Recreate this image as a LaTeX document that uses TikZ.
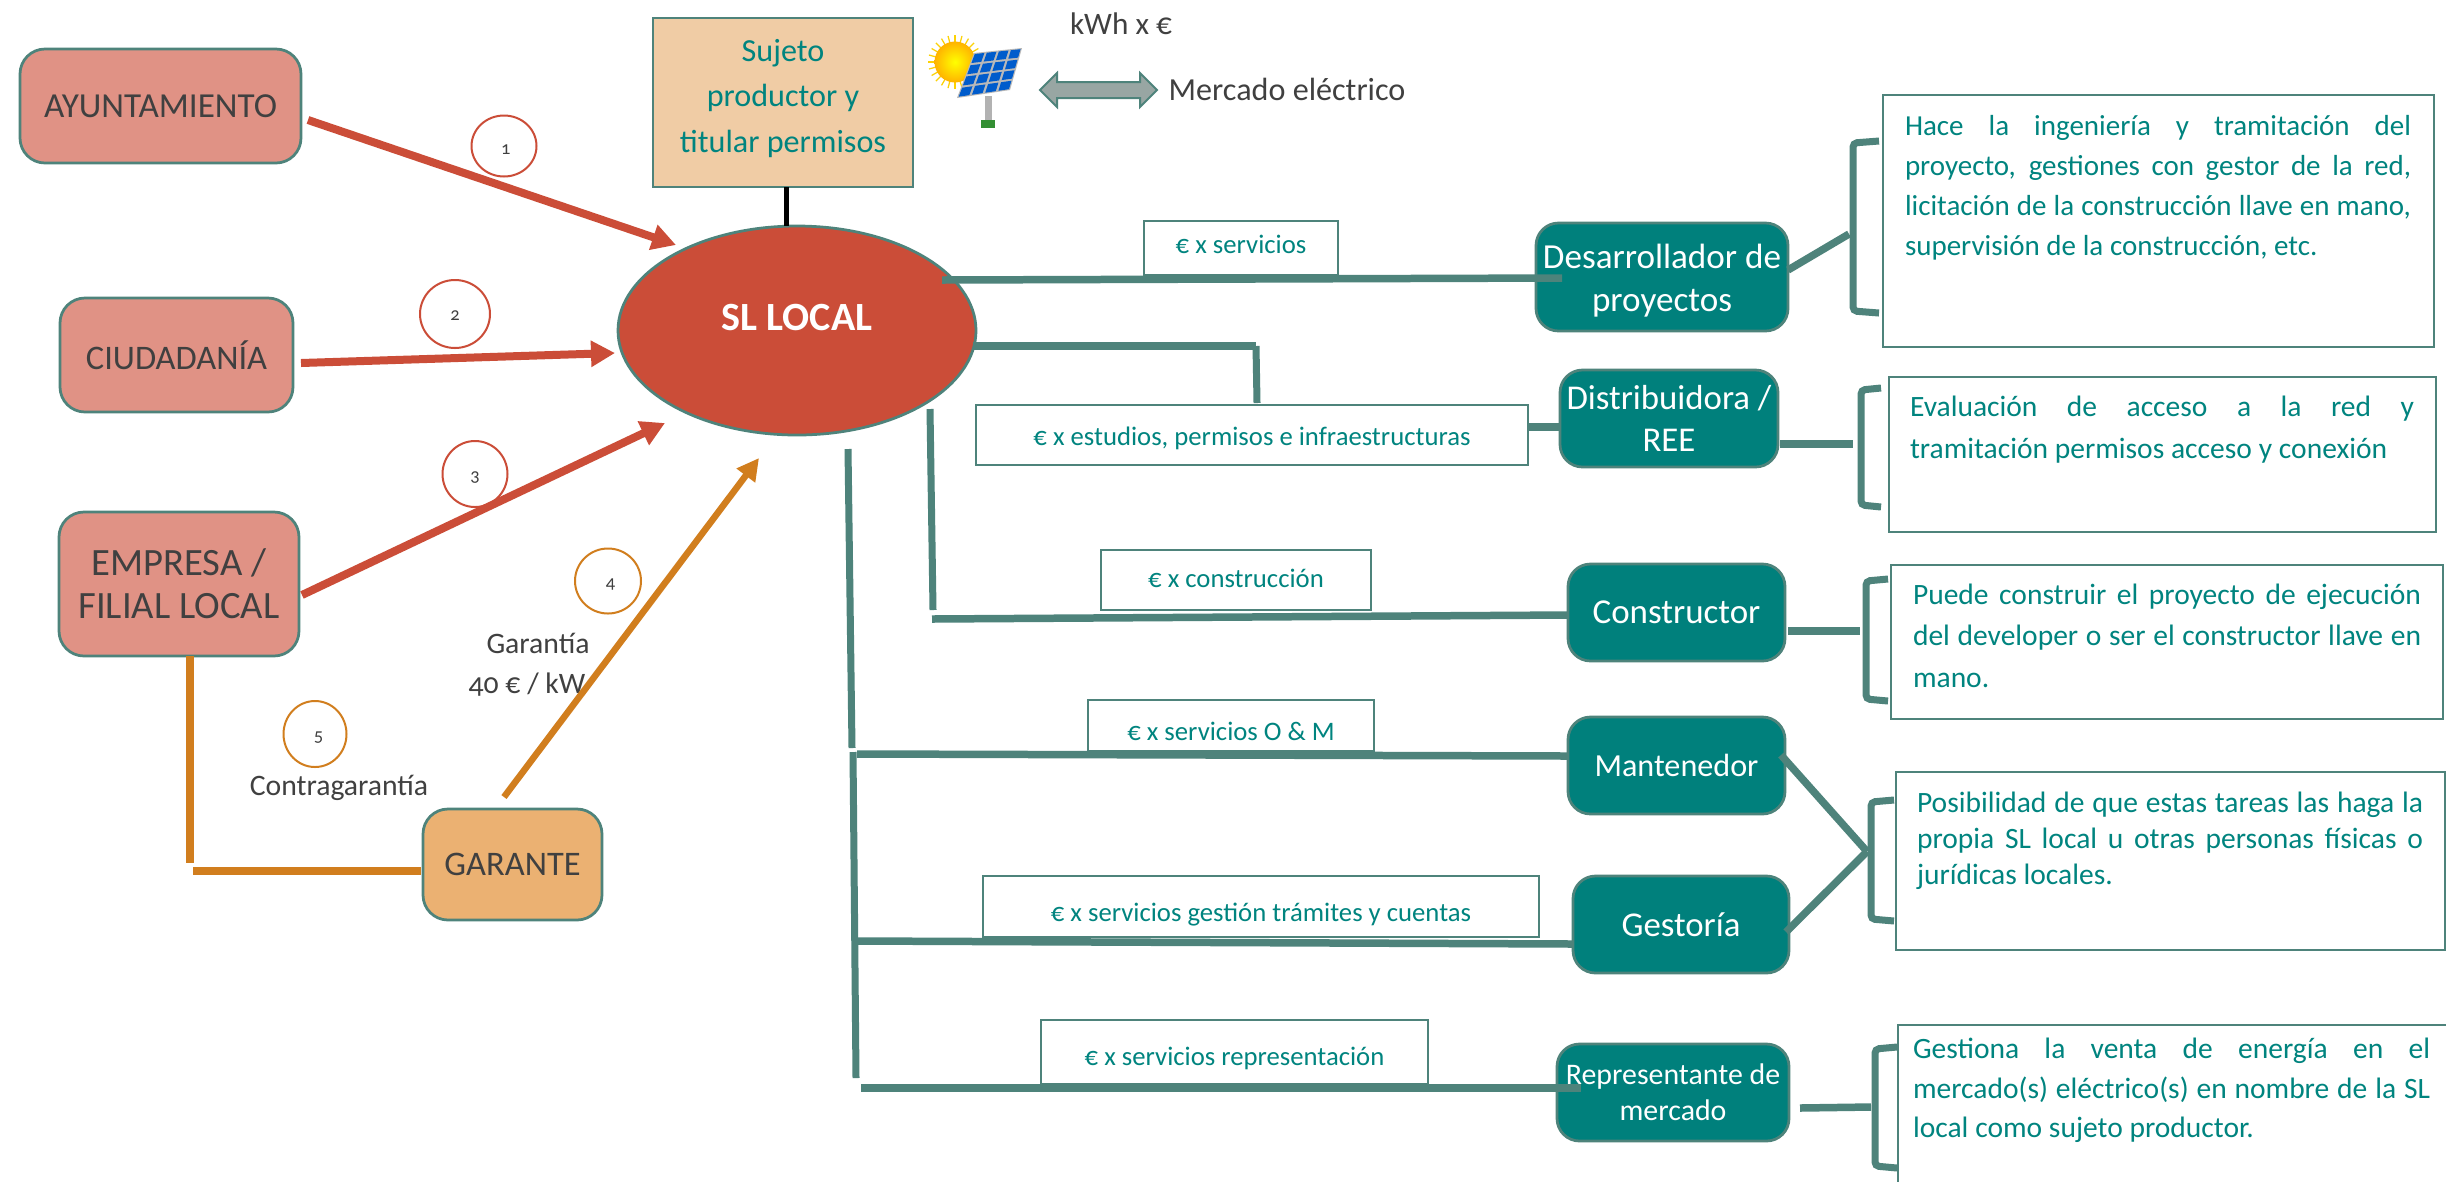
\documentclass[tikz,border=0pt]{standalone}
\usepackage{fontspec}
\setmainfont[Numbers=OldStyle]{Carlito}
\usetikzlibrary{arrows.meta,calc,shapes.geometric}
\definecolor{tealline}{HTML}{4E837B}
\definecolor{tealfill}{HTML}{00807C}
\definecolor{tealtext}{HTML}{00847F}
\definecolor{redc}{HTML}{CB4D38}
\definecolor{salmon}{HTML}{E09285}
\definecolor{peach}{HTML}{F0CCA5}
\definecolor{orangefill}{HTML}{EBB172}
\definecolor{orangeline}{HTML}{D17E1E}
\definecolor{darktext}{HTML}{404040}
\definecolor{arrowgray}{HTML}{98A6A3}
\newcommand{\fpx}[2]{\fontsize{#1}{#2}\selectfont}
\newcommand{\lift}[2]{\raisebox{#1pt}[0pt][0pt]{#2}}
\newcommand{\jl}[1]{\hbox to\hsize{\spaceskip=.23em plus 1fil\xspaceskip=.23em plus 1fil\relax #1}\par}
\tikzset{
  sz/.style 2 args={minimum width=#1*0.02cm,minimum height=#2*0.02cm,inner sep=0pt,outer sep=0pt},
  rbox/.style={draw=tealline,line width=0.055cm,rounded corners=0.5cm,align=center,text=darktext},
  sbox/.style={rbox,fill=salmon},
  tbox/.style={draw=tealline,fill=tealfill,line width=0.055cm,rounded corners=0.45cm,align=center,text=white},
  lblbox/.style={draw=tealline,fill=white,line width=0.05cm,text=tealtext,font=\fpx{15.2}{18}},
  descbox/.style={draw=tealline,fill=white,line width=0.055cm},
  desctext/.style={anchor=north west,inner sep=0pt,outer sep=0pt,text=tealtext},
  conn/.style={draw=tealline,line width=0.15cm},
  vconn/.style={draw=tealline,line width=0.14cm},
  bracket/.style={draw=tealline,line width=0.14cm,rounded corners=0.08cm},
  redarrow/.style={draw=redc,line width=0.16cm,-{Triangle[length=0.48cm,width=0.5cm]}},
  orangearrow/.style={draw=orangeline,line width=0.13cm,-{Triangle[length=0.44cm,width=0.44cm]}},
  orangeconn/.style={draw=orangeline,line width=0.15cm},
  numc/.style={ellipse,draw=#1,line width=0.04cm,fill=none,text=darktext,font=\fpx{10.5}{12},inner sep=0pt},
  plain/.style={text=darktext,inner sep=0pt,align=center}
}
\begin{document}
\begin{tikzpicture}[x=0.02cm,y=-0.02cm]
\clip (0,0) rectangle (2446,1181);
\fill[white] (0,0) rectangle (2446,1181);

% actors
\node[sbox,sz={281}{114},font=\fpx{20}{22}] (ayto) at (160.5,106) {AYUNTAMIENTO};
\node[sbox,sz={233}{114},font=\fpx{19.6}{22}] (ciud) at (176.5,355) {CIUDADANÍA};
\node[sbox,sz={240}{144},font=\fpx{22}{24.5}] (emp) at (179,584) {EMPRESA /\\FILIAL LOCAL};
\node[rbox,fill=orangefill,sz={179}{111},font=\fpx{19.6}{22}] (gar) at (512.5,864.5) {\lift{-6}{GARANTE}};
\node[draw=tealline,fill=peach,line width=0.055cm,sz={260}{169},text=tealtext,align=center,font=\fpx{18.3}{25.9}] (suj) at (783,102.5) {Sujeto\\productor y\\titular permisos\rule[-8pt]{0pt}{0pt}};
\node[ellipse,draw=tealline,fill=redc,line width=0.055cm,sz={358}{209},text=white,font=\bfseries\fpx{22.8}{24}] (sl) at (797,330.5) {\lift{0}{SL LOCAL}};

% solar panel
\coordinate (pTL) at (974,53); \coordinate (pTR) at (1022,48);
\coordinate (pBR) at (1010,90); \coordinate (pBL) at (957,98);
\foreach \a in {0,15,...,345}{\draw[draw=yellow!70!orange,line width=0.025cm] (955,62)--++(\a:27);}
\shade[inner color=yellow,outer color=orange!60!yellow] (955,62) circle (0.41cm);
\fill[gray!60] (985,96) rectangle (992,125);
\fill[green!45!black!80] (981,120) rectangle (995,128);
\fill[gray!55] (pTL)--(pTR)--(pBR)--(pBL)--cycle;
\foreach \i in {0,1,2,3}{\foreach \j in {0,1,2,3}{
  \pgfmathsetmacro\ua{(\i+0.1)/4}\pgfmathsetmacro\ub{(\i+0.9)/4}
  \pgfmathsetmacro\va{(\j+0.1)/4}\pgfmathsetmacro\vb{(\j+0.9)/4}
  \fill[blue!55!cyan!80!black]
   ($($(pTL)!\ua!(pTR)$)!\va!($(pBL)!\ua!(pBR)$)$)--
   ($($(pTL)!\ub!(pTR)$)!\va!($(pBL)!\ub!(pBR)$)$)--
   ($($(pTL)!\ub!(pTR)$)!\vb!($(pBL)!\ub!(pBR)$)$)--
   ($($(pTL)!\ua!(pTR)$)!\vb!($(pBL)!\ua!(pBR)$)$)--cycle;
}}
\fill[fill=arrowgray,draw=tealline,line width=0.04cm]
 (1040,90)--(1057,73)--(1057,82)--(1140,82)--(1140,73)--(1157,90)--(1140,107)--(1140,98)--(1057,98)--(1057,107)--cycle;
\node[plain,font=\fpx{17.8}{20}] (kwh) at (1121,24) {kWh x €};
\node[plain,font=\fpx{18.3}{20}] (merc) at (1287,89) {Mercado eléctrico};

% numbers and side labels
\node[numc=redc,sz={65}{61}] (n1) at (504,146) {\lift{-5}{\hspace{2pt}1}};
\node[numc=redc,sz={70}{68}] (n2) at (455,314) {\lift{-3.5}{2}};
\node[numc=redc,sz={65}{66}] (n3) at (475,474) {\lift{-4}{3}};
\node[numc=orangeline,sz={66}{65}] (n4) at (608,581) {\lift{-4.5}{\hspace{3pt}4}};
\node[numc=orangeline,sz={63}{66}] (n5) at (315,734) {\lift{-4.5}{\hspace{4pt}5}};
\node[plain,font=\fpx{16.9}{24}] (gart) at (538,643) {Garantía};
\node[plain,font=\fpx{16.9}{24}] (gar40) at (527,685) {40 € / kW};
\node[plain,font=\fpx{16.9}{24}] (contra) at (339,788) {Contragarantía};

% service nodes
\node[tbox,sz={252}{108},font=\fpx{20}{25}] (des) at (1662,277) {\rule{0pt}{18pt}Desarrollador de\\proyectos};
\node[tbox,sz={218}{97},font=\fpx{19.8}{24}] (dist) at (1669,418.5) {Distribuidora /\\REE};
\node[tbox,sz={217}{97},font=\fpx{19.9}{22}] (cons) at (1676.5,612.5) {Constructor};
\node[tbox,sz={217}{97},font=\fpx{18.3}{22}] (mant) at (1676.5,765.5) {Mantenedor};
\node[tbox,sz={216}{97},font=\fpx{19.8}{22}] (gest) at (1681,924.5) {Gestoría};
\node[tbox,sz={232}{97},font=\fpx{17}{20.5}] (rep) at (1673,1092.5) {Representante de\\mercado};

% connector end points
\coordinate (a1s) at (308,120); \coordinate (a1e) at (676,245);
\coordinate (a2s) at (301,363); \coordinate (a2e) at (615,353);
\coordinate (a3s) at (302,595); \coordinate (a3e) at (665,423);
\coordinate (a4s) at (504,797); \coordinate (a4e) at (759,458);
\coordinate (o1) at (190,656); \coordinate (o2) at (190,863);
\coordinate (o3) at (193,871); \coordinate (o4) at (421,871);
\coordinate (k1) at (786,187); \coordinate (k2) at (786,226);
\coordinate (c1s) at (942,280); \coordinate (c1e) at (1562,278);
\coordinate (c2s) at (973,346); \coordinate (c2m) at (1256,346); \coordinate (c2e) at (1257,403);
\coordinate (c2f) at (1528,427); \coordinate (c2g) at (1560,427);
\coordinate (c3s) at (930,409); \coordinate (c3m) at (933,610);
\coordinate (c3a) at (932,619); \coordinate (c3e) at (1567,615);
\coordinate (c4s) at (848,449); \coordinate (c4m) at (852,748);
\coordinate (c4a) at (853,752); \coordinate (c4b) at (856,1078);
\coordinate (c5a) at (857,754); \coordinate (c5e) at (1567,756);
\coordinate (c6a) at (858,941); \coordinate (c6e) at (1573,944);
\coordinate (c7a) at (861,1088); \coordinate (c7e) at (1581,1088);
\coordinate (r1a) at (1788,270); \coordinate (r1b) at (1849,234);
\coordinate (r2a) at (1780,444); \coordinate (r2b) at (1853,444);
\coordinate (r3a) at (1788,631); \coordinate (r3b) at (1860,631);
\coordinate (r4a) at (1781,755); \coordinate (r4b) at (1786,932); \coordinate (r4c) at (1867,851.5);
\coordinate (r5a) at (1800,1108); \coordinate (r5b) at (1871,1107);

% label boxes
\node[lblbox,sz={194}{54}] (l1) at (1241,248) {\lift{-3}{€ x servicios}};
\node[lblbox,sz={552}{60}] (l2) at (1252,435) {\lift{-6}{€ x estudios, permisos e infraestructuras}};
\node[lblbox,sz={270}{60}] (l3) at (1236,580) {\lift{-4}{€ x construcción}};
\node[lblbox,sz={286}{51}] (l4) at (1231,725.5) {\lift{-8.5}{€ x servicios O \& M}};
\node[lblbox,sz={556}{61}] (l5) at (1261,906.5) {\lift{-8.5}{€ x servicios gestión trámites y cuentas}};
\node[lblbox,sz={387}{64}] (l6) at (1234.5,1052) {\lift{-7.4}{€ x servicios representación}};

% description boxes
\node[descbox,sz={551}{252}] (d1) at (2158.5,221) {};
\node[descbox,sz={547}{155}] (d2) at (2162.5,454.5) {};
\node[descbox,sz={552}{154}] (d3) at (2167,642) {};
\node[descbox,sz={549}{178}] (d4) at (2170.5,861) {};
\node[descbox,sz={560}{200}] (d5) at (2178,1125) {};

\node[desctext,text width=506*0.02cm,font=\fpx{16.5}{22.8}] (t1) at (1905,115) {\jl{Hace la ingeniería y tramitación del}\jl{proyecto, gestiones con gestor de la red,}\jl{licitación de la construcción llave en mano,}\jl{supervisión de la construcción, etc.\hskip 0pt plus 1fill}};
\node[desctext,text width=504*0.02cm,font=\fpx{16.8}{23.9}] (t2) at (1910,396) {\jl{Evaluación de acceso a la red y}\jl{tramitación permisos acceso y conexión\hskip 0pt plus 1fill}};
\node[desctext,text width=508*0.02cm,font=\fpx{16.8}{23.6}] (t3) at (1913,584) {\jl{Puede construir el proyecto de ejecución}\jl{del developer o ser el constructor llave en}\jl{mano.\hskip 0pt plus 1fill}};
\node[desctext,text width=506*0.02cm,font=\fpx{16.8}{20.5}] (t4) at (1917,792) {\jl{Posibilidad de que estas tareas las haga la}\jl{propia SL local u otras personas físicas o}\jl{jurídicas locales.\hskip 0pt plus 1fill}};
\node[desctext,text width=517*0.02cm,font=\fpx{16.8}{22.5}] (t5) at (1913,1038) {\jl{Gestiona la venta de energía en el}\jl{mercado(s) eléctrico(s) en nombre de la SL}\jl{local como sujeto productor.\hskip 0pt plus 1fill}};

% brackets
\draw[bracket] (1879,141)--(1853,143)--(1853,311)--(1879,313);
\draw[bracket] (1881,388)--(1861,390)--(1861,505)--(1881,507);
\draw[bracket] (1888,579)--(1866,581)--(1866,699)--(1888,701);
\draw[bracket] (1894,800)--(1871,802)--(1871,919)--(1894,921);
\draw[bracket] (1897,1047)--(1875,1049)--(1875,1166)--(1897,1168);

% connectors
\draw[redarrow] (a1s)--(a1e);
\draw[redarrow] (a2s)--(a2e);
\draw[redarrow] (a3s)--(a3e);
\draw[orangearrow] (a4s)--(a4e);
\draw[orangeconn] (o1)--(o2);
\draw[orangeconn] (o3)--(o4);
\draw[draw=black,line width=0.1cm] (k1)--(k2);
\draw[conn] (c1s)--(c1e);
\draw[conn] (c2s)--(c2m);
\draw[vconn] (c2m)--(c2e);
\draw[conn] (c2f)--(c2g);
\draw[vconn] (c3s)--(c3m);
\draw[conn] (c3a)--(c3e);
\draw[vconn] (c4s)--(c4m);
\draw[vconn] (c4a)--(c4b);
\draw[conn] (c5a)--(c5e);
\draw[conn] (c6a)--(c6e);
\draw[conn] (c7a)--(c7e);
\draw[conn] (r1a)--(r1b);
\draw[conn] (r2a)--(r2b);
\draw[conn] (r3a)--(r3b);
\draw[conn] (r4a)--(r4c);
\draw[conn] (r4b)--(r4c);
\draw[conn] (r5a)--(r5b);
\end{tikzpicture}
\end{document}
